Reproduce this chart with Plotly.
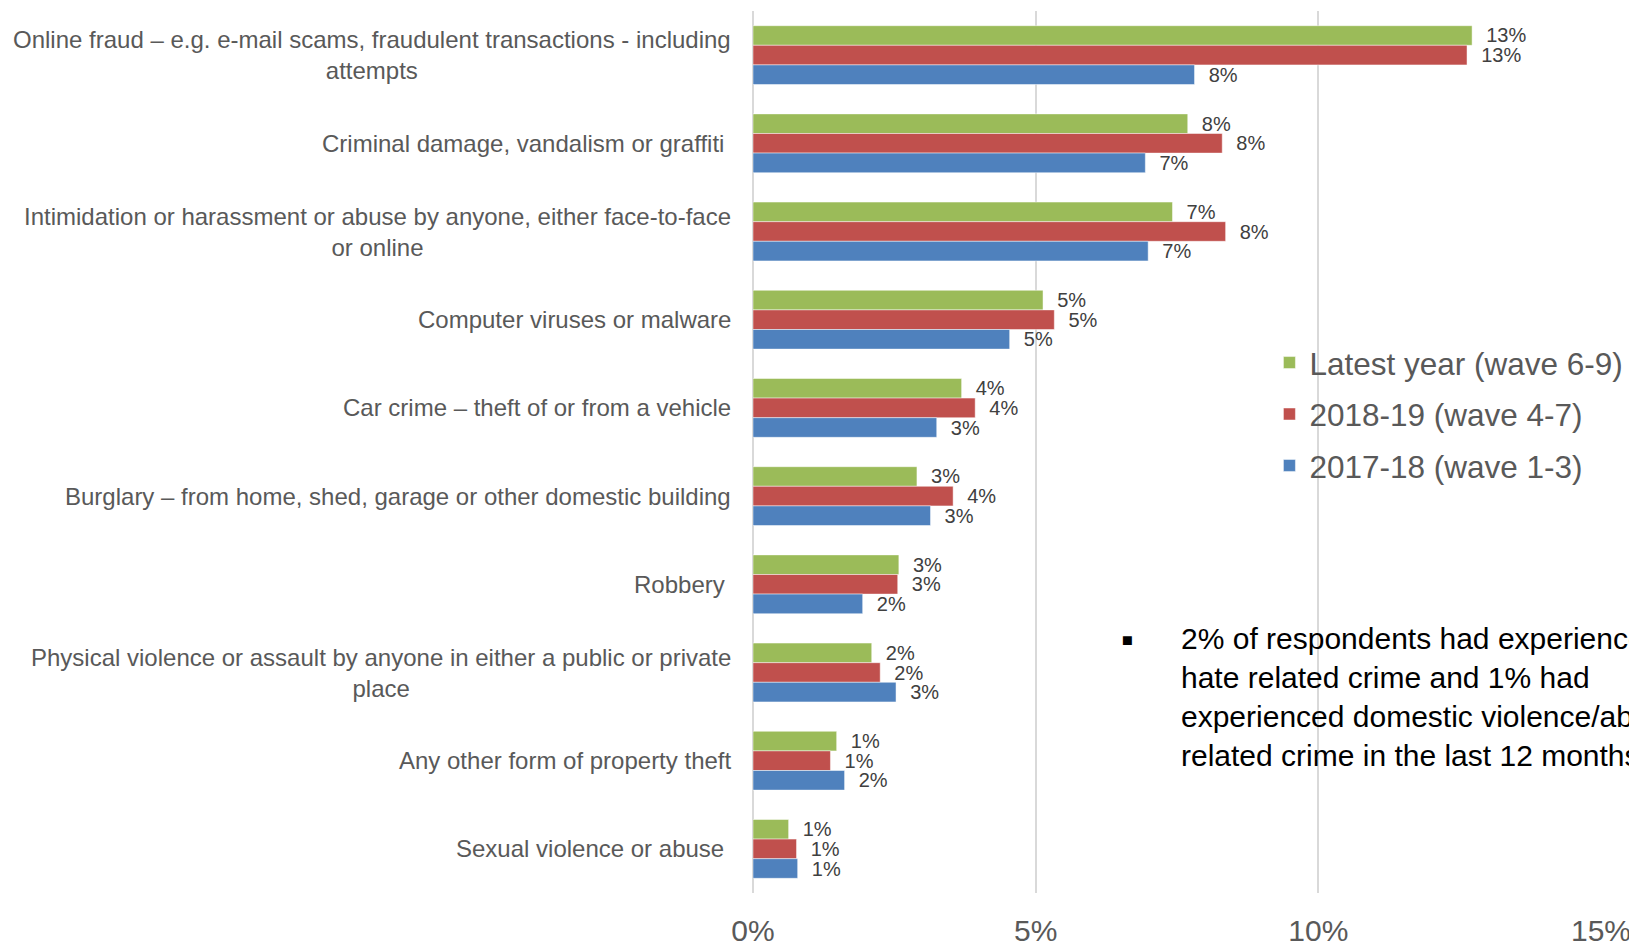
import plotly.graph_objects as go

# ── Data (percent of respondents) ───────────────────────────────────
CATEGORIES = [
    "Online fraud – e.g. e-mail scams, fraudulent transactions - including<br>attempts",
    "Criminal damage, vandalism or graffiti ",
    "Intimidation or harassment or abuse by anyone, either face-to-face<br>or online",
    "Computer viruses or malware",
    "Car crime – theft of or from a vehicle",
    "Burglary – from home, shed, garage or other domestic building",
    "Robbery ",
    "Physical violence or assault by anyone in either a public or private<br>place",
    "Any other form of property theft",
    "Sexual violence or abuse ",
]
LATEST = [12.72, 7.69, 7.42, 5.13, 3.69, 2.90, 2.58, 2.10, 1.48, 0.63]
WAVE_2018_19 = [12.63, 8.30, 8.36, 5.33, 3.93, 3.54, 2.56, 2.25, 1.37, 0.77]
WAVE_2017_18 = [7.81, 6.94, 6.99, 4.54, 3.25, 3.14, 1.94, 2.53, 1.62, 0.79]

SERIES = [
    ("Latest year (wave 6-9)", LATEST, "#9BBB59"),
    ("2018-19 (wave 4-7)", WAVE_2018_19, "#C0504D"),
    ("2017-18 (wave 1-3)", WAVE_2017_18, "#4F81BD"),
]

X_TICKS = [0, 5, 10, 15]
X_TICK_LABELS = ["0%", "5%", "10%", "15%"]
NOTE = ("2% of respondents had experienced<br>hate related crime and 1% had<br>"
        "experienced domestic violence/abuse<br>related crime in the last 12 months")

FONT = "Liberation Sans, Arial, sans-serif"
GREY = "#595959"

fig = go.Figure()
for i, (name, vals, col) in enumerate(SERIES):
    fig.add_trace(go.Bar(
        y=CATEGORIES, x=vals, name=name, orientation="h",
        marker=dict(color=col, line=dict(color="rgba(255,255,255,0.6)", width=0.8)),
        text=vals, texttemplate="\u00a0\u00a0%{x:.0f}%", textposition="outside",
        textfont=dict(family=FONT, size=20, color="#404040"),
        constraintext="none", cliponaxis=False,
        legendgroup=f"g{i}",
    ))

# category labels, centred over several lines like the original
for cat in CATEGORIES:
    fig.add_annotation(
        x=0, y=cat, xref="x", yref="y", text=cat,
        xanchor="right", xshift=-20, align="center", showarrow=False,
        font=dict(family=FONT, size=24, color=GREY),
    )

fig.add_annotation(
    x=0.5025, y=0.309, xref="paper", yref="paper", text=NOTE,
    xanchor="left", yanchor="top", align="left", showarrow=False,
    font=dict(family=FONT, size=30, color="#000000"),
)
fig.add_annotation(
    x=0.432, y=0.287, xref="paper", yref="paper", text="▪",
    xanchor="left", yanchor="middle", showarrow=False,
    font=dict(family=FONT, size=36, color="#000000"),
)

fig.update_layout(
    width=1637, height=944,
    margin=dict(l=745, r=44, t=3, b=59),
    paper_bgcolor="white", plot_bgcolor="white",
    barmode="group", bargap=0.333, bargroupgap=0,
    font=dict(family=FONT, color=GREY),
    legend=dict(
        x=0.609, y=0.632, xanchor="left", yanchor="top",
        traceorder="grouped", tracegroupgap=7.5, itemwidth=30,
        font=dict(family=FONT, size=31.5, color=GREY),
        bgcolor="rgba(0,0,0,0)",
    ),
    xaxis=dict(
        range=[0, 15], tickvals=X_TICKS, ticktext=X_TICK_LABELS,
        showgrid=True, gridcolor="#D9D9D9", gridwidth=1.5,
        zeroline=True, zerolinecolor="#D9D9D9", zerolinewidth=1.5,
        showline=False, ticks="", ticklabelstandoff=17, automargin=False,
        tickfont=dict(family=FONT, size=30, color=GREY),
    ),
    yaxis=dict(
        autorange="reversed", showticklabels=False, showgrid=False,
        zeroline=False, showline=False, ticks="", automargin=False,
    ),
)

fig.write_html("out.html")
